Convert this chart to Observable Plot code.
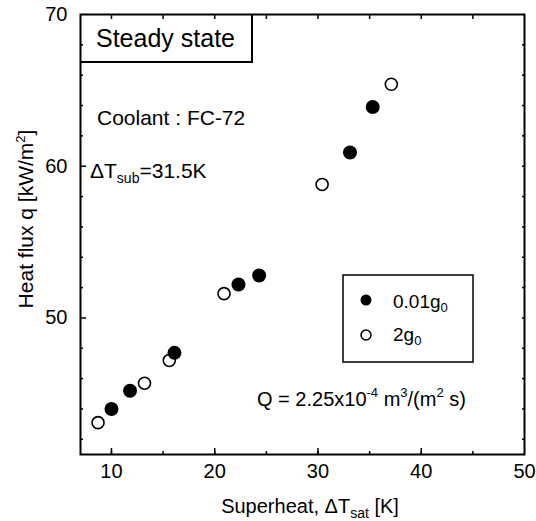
<!DOCTYPE html>
<html>
<head>
<meta charset="utf-8">
<script src="https://cdn.jsdelivr.net/npm/d3@7"></script>
<script src="https://cdn.jsdelivr.net/npm/@observablehq/plot@0.6"></script>
<style>
  html, body { margin: 0; padding: 0; background: #fff; }
  #chart { width: 536px; height: 521px; position: relative; }
</style>
</head>
<body>
<div id="chart"></div>
<script>
// ---- Data ----
const lowGX = [10.0, 11.8, 16.1, 22.3, 24.3, 33.1, 35.3];   // 0.01 g0 (filled)
const lowGY = [44.0, 45.2, 47.7, 52.2, 52.8, 60.9, 63.9];
const highGX = [8.7, 13.2, 15.6, 20.9, 30.4, 37.1];          // 2 g0 (open)
const highGY = [43.1, 45.7, 47.2, 51.6, 58.8, 65.4];

const xTickLabels = [10, 20, 30, 40, 50];
const yTickLabels = [50, 60, 70];
const xMinorTicks = [10, 15, 20, 25, 30, 35, 40, 45];
const yMinorTicks = [42, 44, 46, 48, 52, 54, 56, 58, 62, 64, 66, 68];
const yMajorTicks = [50, 60];

const lowG = lowGX.map((x, i) => ({x, y: lowGY[i]}));
const highG = highGX.map((x, i) => ({x, y: highGY[i]}));

const FONT = "'Liberation Sans', Arial, Helvetica, sans-serif";

const plot = Plot.plot({
  width: 536,
  height: 521,
  marginLeft: 80,
  marginRight: 12,
  marginTop: 14,
  marginBottom: 67,
  style: {fontFamily: FONT, background: "#fff", color: "#000", overflow: "visible"},
  x: {domain: [7, 50]},
  y: {domain: [41, 70]},
  marks: [
    Plot.frame({stroke: "#000", strokeWidth: 2}),
    // tick labels
    Plot.axisX(xTickLabels, {anchor: "bottom", tickSize: 0, tickPadding: 9, fontSize: 20, label: null}),
    Plot.axisY(yTickLabels, {anchor: "left", tickSize: 0, tickPadding: 13, fontSize: 20, label: null}),
    // inward ticks, all four sides
    Plot.axisX(xTickLabels.slice(0, 4), {anchor: "bottom", tickSize: -6, strokeWidth: 1.5, tickFormat: () => "", label: null}),
    Plot.axisX(xMinorTicks, {anchor: "bottom", tickSize: -3, strokeWidth: 1.5, tickFormat: () => "", label: null}),
    Plot.axisX(xMinorTicks, {anchor: "top", tickSize: -4, strokeWidth: 1.5, tickFormat: () => "", label: null}),
    Plot.axisY(yMajorTicks, {anchor: "left", tickSize: -6, strokeWidth: 1.5, tickFormat: () => "", label: null}),
    Plot.axisY(yMinorTicks, {anchor: "left", tickSize: -3, strokeWidth: 1.5, tickFormat: () => "", label: null}),
    Plot.axisY(yMinorTicks.concat(yMajorTicks), {anchor: "right", tickSize: -3, strokeWidth: 1.5, tickFormat: () => "", label: null}),
    // data
    Plot.dot(highG, {x: "x", y: "y", r: 6, stroke: "#000", strokeWidth: 1.6, fill: "#fff"}),
    Plot.dot(lowG, {x: "x", y: "y", r: 7, fill: "#000", stroke: "none"})
  ]
});

document.getElementById("chart").appendChild(plot);

// ---- Annotations (text, box, legend) ----
const svg = d3.select(plot);
const g = svg.append("g").attr("font-family", FONT).attr("fill", "#000")
  .attr("text-anchor", "start");

function addTspans(textSel, parts) {
  for (const p of parts) {
    const t = textSel.append("tspan").attr("fill", "#000").text(p.t);
    if (p.fs) t.attr("font-size", p.fs);
    if (p.dy) t.attr("dy", p.dy);
  }
}

// "Steady state" box
g.append("path")
  .attr("d", "M80,62H252V14")
  .attr("fill", "none").attr("stroke", "#000").attr("stroke-width", 2);
g.append("text").attr("x", 96).attr("y", 47).attr("font-size", 25).text("Steady state");

// Coolant text
g.append("text").attr("x", 97).attr("y", 125).attr("font-size", 21).text("Coolant : FC-72");
addTspans(g.append("text").attr("x", 90).attr("y", 178).attr("font-size", 21), [
  {t: "\u0394T"}, {t: "sub", fs: 14, dy: 5}, {t: "=31.5K", dy: -5}
]);

// Legend
g.append("rect").attr("x", 343).attr("y", 275).attr("width", 130).attr("height", 87)
  .attr("fill", "none").attr("stroke", "#000").attr("stroke-width", 1.5);
g.append("circle").attr("cx", 366).attr("cy", 300).attr("r", 5.5).attr("fill", "#000");
g.append("circle").attr("cx", 366).attr("cy", 335).attr("r", 5).attr("fill", "#fff")
  .attr("stroke", "#000").attr("stroke-width", 1.5);
addTspans(g.append("text").attr("x", 393).attr("y", 308).attr("font-size", 19), [
  {t: "0.01g"}, {t: "0", fs: 13, dy: 4}
]);
addTspans(g.append("text").attr("x", 393).attr("y", 341).attr("font-size", 19), [
  {t: "2g"}, {t: "0", fs: 13, dy: 4}
]);

// Flow rate
addTspans(g.append("text").attr("x", 257).attr("y", 406).attr("font-size", 20), [
  {t: "Q = 2.25x10"}, {t: "-4", fs: 13, dy: -9}, {t: " m", dy: 9},
  {t: "3", fs: 13, dy: -9}, {t: "/(m", dy: 9}, {t: "2", fs: 13, dy: -9}, {t: " s)", dy: 9}
]);

// Axis labels
addTspans(g.append("text").attr("x", 310).attr("y", 513).attr("font-size", 20).attr("text-anchor", "middle"), [
  {t: "Superheat, \u0394T"}, {t: "sat", fs: 14, dy: 5}, {t: " [K]", dy: -5}
]);

addTspans(g.append("text").attr("transform", "translate(33,219) rotate(-90)")
  .attr("font-size", 21).attr("text-anchor", "middle"), [
  {t: "Heat flux q [kW/m"}, {t: "2", fs: 13, dy: -8}, {t: "]", dy: 8}
]);
</script>
</body>
</html>
